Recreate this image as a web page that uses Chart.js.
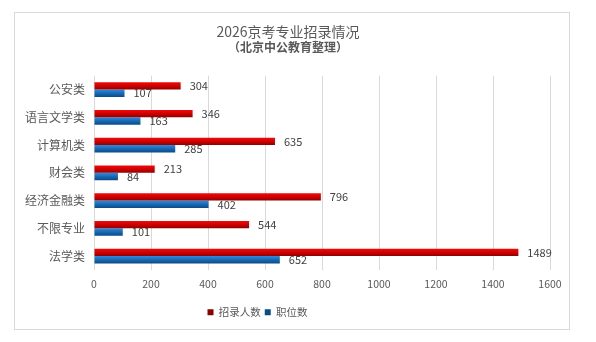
<!DOCTYPE html>
<html>
<head>
<meta charset="utf-8">
<script src="https://cdn.jsdelivr.net/npm/chart.js@4/dist/chart.umd.min.js"></script>
<style>
  html, body { margin: 0; padding: 0; background: #fff; }
  #wrap { width: 596px; height: 342px; }
</style>
</head>
<body>
<div id="wrap"><canvas id="chart"></canvas></div>
<script>
const categories = ["公安类", "语言文学类", "计算机类", "财会类", "经济金融类", "不限专业", "法学类"];
const hires = [304, 346, 635, 213, 796, 544, 1489];      // 招录人数
const positions = [107, 163, 285, 84, 402, 101, 652];   // 职位数
const xTicks = [0, 200, 400, 600, 800, 1000, 1200, 1400, 1600];

const FONT = "'Noto Sans CJK SC', 'Noto Sans', sans-serif";
const CAT_PCT = 0.535;

// vertical gradient for each bar, worked out from the category scale
function barFill(stops, solid) {
  return function (c) {
    if (c.type !== 'data') return solid;
    const y = c.chart.scales.y;
    if (!y || !c.chart.chartArea) return solid;
    const step = y.height / categories.length;
    const band = step * CAT_PCT;
    const h = band / 2;
    const top = y.getPixelForValue(c.dataIndex) - band / 2 + c.datasetIndex * h;
    const g = c.chart.ctx.createLinearGradient(0, top, 0, top + h);
    g.addColorStop(0, stops[0]);
    g.addColorStop(0.5, stops[1]);
    g.addColorStop(1, stops[2]);
    return g;
  };
}

const frame = {
  id: 'frame',
  beforeDraw(chart) {
    const ctx = chart.ctx;
    ctx.save();
    ctx.fillStyle = '#fff';
    ctx.fillRect(0, 0, chart.width, chart.height);
    ctx.strokeStyle = '#d9d9d9';
    ctx.lineWidth = 1;
    ctx.strokeRect(14.5, 12.5, 555, 317);
    ctx.restore();
  }
};

const valueLabels = {
  id: 'valueLabels',
  afterDatasetsDraw(chart) {
    const ctx = chart.ctx;
    ctx.save();
    ctx.font = '11px ' + FONT;
    ctx.fillStyle = '#404040';
    ctx.textAlign = 'left';
    ctx.textBaseline = 'middle';
    chart.data.datasets.forEach((ds, i) => {
      chart.getDatasetMeta(i).data.forEach((bar, j) => {
        ctx.fillText(ds.data[j], bar.x + 9, bar.y);
      });
    });
    ctx.restore();
  }
};

// title sits a little right of the box centre, legend a little left
const boxShift = {
  id: 'boxShift',
  afterLayout(chart) {
    chart.boxes.forEach(b => {
      if (b === chart.legend) {
        b.left -= 25; b.right -= 25;
      } else if (b.position === 'top') {
        b.left += 5.5; b.right += 5.5;
      }
    });
  }
};

new Chart(document.getElementById('chart'), {
  type: 'bar',
  data: {
    labels: categories,
    datasets: [
      {
        label: '招录人数',
        data: hires,
        backgroundColor: barFill(['#f20a0a', '#d00000', '#8e0000'], '#c00000'),
        categoryPercentage: CAT_PCT,
        barPercentage: 1
      },
      {
        label: '职位数',
        data: positions,
        backgroundColor: barFill(['#2f8bdb', '#1868b4', '#0b4a85'], '#1565b0'),
        categoryPercentage: CAT_PCT,
        barPercentage: 1
      }
    ]
  },
  options: {
    indexAxis: 'y',
    responsive: true,
    maintainAspectRatio: false,
    animation: false,
    layout: { padding: { top: 25, left: 15, right: 46, bottom: 14.5 } },
    scales: {
      x: {
        min: 0,
        max: 1600,
        afterBuildTicks(scale) { scale.ticks = xTicks.map(v => ({ value: v })); },
        afterFit(scale) { scale.height = 33; },
        grid: { color: '#d9d9d9', drawTicks: false },
        border: { display: false },
        ticks: {
          color: '#595959',
          font: { family: FONT, size: 10.5 },
          padding: 8,
          maxRotation: 0,
          callback: v => String(v)
        }
      },
      y: {
        afterFit(scale) { scale.width = 79; },
        grid: { display: false, drawTicks: false },
        border: { display: false },
        ticks: { color: '#595959', font: { family: FONT, size: 12 }, padding: 9 }
      }
    },
    plugins: {
      title: {
        display: true,
        text: '2026京考专业招录情况',
        color: '#595959',
        font: { family: FONT, size: 14, weight: 'normal', lineHeight: 1 },
        padding: { top: 0, bottom: 2 }
      },
      subtitle: {
        display: true,
        text: '（北京中公教育整理）',
        color: '#595959',
        font: { family: FONT, size: 12, weight: 'bold', lineHeight: 1 },
        padding: { top: 0, bottom: 22.7 }
      },
      legend: {
        position: 'bottom',
        labels: {
          boxWidth: 6,
          boxHeight: 6,
          padding: 4,
          color: '#595959',
          font: { family: FONT, size: 10.5 }
        }
      },
      tooltip: { enabled: false }
    }
  },
  plugins: [frame, valueLabels, boxShift]
});
</script>
</body>
</html>
